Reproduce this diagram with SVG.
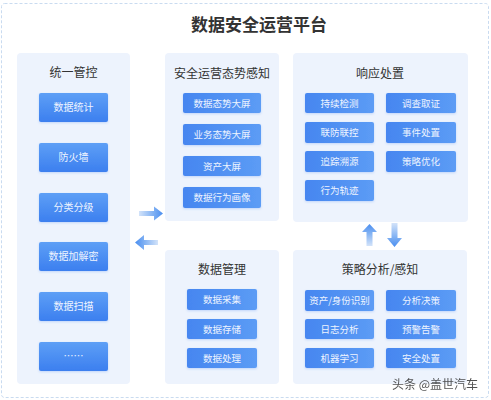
<svg xmlns="http://www.w3.org/2000/svg" width="491" height="400" viewBox="0 0 491 400">
<defs>
<linearGradient id="btn" x1="0" y1="0" x2="0" y2="1">
<stop offset="0" stop-color="#5d9ff6"/>
<stop offset="1" stop-color="#3c7fef"/>
</linearGradient>
<linearGradient id="btn2" x1="0" y1="0" x2="1" y2="0">
<stop offset="0" stop-color="#4686f0"/>
<stop offset="1" stop-color="#5c9cf5"/>
</linearGradient>
<linearGradient id="arR" x1="0" y1="0" x2="1" y2="0">
<stop offset="0" stop-color="#d3e3f9"/>
<stop offset="0.6" stop-color="#7fb0f3"/>
<stop offset="1" stop-color="#4a8ef0"/>
</linearGradient>
<linearGradient id="arL" x1="1" y1="0" x2="0" y2="0">
<stop offset="0" stop-color="#d3e3f9"/>
<stop offset="0.6" stop-color="#7fb0f3"/>
<stop offset="1" stop-color="#4a8ef0"/>
</linearGradient>
<linearGradient id="arU" x1="0" y1="1" x2="0" y2="0">
<stop offset="0" stop-color="#d3e3f9"/>
<stop offset="0.6" stop-color="#7fb0f3"/>
<stop offset="1" stop-color="#4a8ef0"/>
</linearGradient>
<linearGradient id="arD" x1="0" y1="0" x2="0" y2="1">
<stop offset="0" stop-color="#d3e3f9"/>
<stop offset="0.6" stop-color="#7fb0f3"/>
<stop offset="1" stop-color="#4a8ef0"/>
</linearGradient>
<filter id="sh" x="-10%" y="-10%" width="120%" height="140%">
<feDropShadow dx="0" dy="1" stdDeviation="1" flood-color="#3c7fef" flood-opacity="0.25"/>
</filter>
</defs>
<style>
.panel{fill:#edf3fd;}
.ptitle{font-family:"Noto Sans CJK SC","Noto Sans",sans-serif;font-size:12px;fill:#333;text-anchor:middle;}
.b{fill:url(#btn);filter:url(#sh);}
.b2{fill:url(#btn2);filter:url(#sh);}
.bt{font-family:"Noto Sans CJK SC","Noto Sans",sans-serif;font-size:10px;fill:#eef4ff;text-anchor:middle;}
.bs{font-family:"Noto Sans CJK SC","Noto Sans",sans-serif;font-size:9.5px;fill:#eef4ff;text-anchor:middle;}
</style>
<rect x="0" y="0" width="491" height="400" fill="#ffffff"/>
<rect x="1.5" y="3.5" width="487" height="394" rx="3" fill="#ffffff" stroke="#c9dbf0" stroke-width="1" stroke-dasharray="3,2"/>
<text x="259" y="31" font-family="Noto Sans CJK SC, Noto Sans, sans-serif" font-size="17" font-weight="bold" fill="#333" text-anchor="middle">数据安全运营平台</text>

<g id="unified-control">
<rect class="panel" x="17" y="53" width="113" height="331" rx="4"/>
<text class="ptitle" x="73.5" y="77">统一管控</text>
<rect class="b" x="39" y="93" width="69" height="29" rx="2"/><text class="bt" x="73.5" y="111">数据统计</text>
<rect class="b" x="39" y="143" width="69" height="29" rx="2"/><text class="bt" x="73.5" y="161">防火墙</text>
<rect class="b" x="39" y="193" width="69" height="29" rx="2"/><text class="bt" x="73.5" y="211">分类分级</text>
<rect class="b" x="39" y="242" width="69" height="29" rx="2"/><text class="bt" x="73.5" y="260">数据加解密</text>
<rect class="b" x="39" y="292" width="69" height="29" rx="2"/><text class="bt" x="73.5" y="310">数据扫描</text>
<rect class="b" x="39" y="342" width="69" height="29" rx="2"/><text class="bt" x="73.5" y="360">……</text>
</g>

<g id="situation-awareness">
<rect class="panel" x="165" y="53" width="114" height="168" rx="4"/>
<text class="ptitle" x="222" y="78">安全运营态势感知</text>
<rect class="b2" x="183" y="93" width="78" height="20" rx="2"/><text class="bs" x="222" y="106.5">数据态势大屏</text>
<rect class="b2" x="183" y="124" width="78" height="21" rx="2"/><text class="bs" x="222" y="138">业务态势大屏</text>
<rect class="b2" x="183" y="156" width="78" height="20" rx="2"/><text class="bs" x="222" y="169.5">资产大屏</text>
<rect class="b2" x="183" y="187" width="78" height="21" rx="2"/><text class="bs" x="222" y="201">数据行为画像</text>
</g>

<g id="response">
<rect class="panel" x="293" y="53" width="175" height="169" rx="4"/>
<text class="ptitle" x="380" y="78">响应处置</text>
<rect class="b2" x="305" y="93" width="69" height="20" rx="2"/><text class="bs" x="339.5" y="106.5">持续检测</text>
<rect class="b2" x="386" y="93" width="70" height="20" rx="2"/><text class="bs" x="421" y="106.5">调查取证</text>
<rect class="b2" x="305" y="122" width="69" height="21" rx="2"/><text class="bs" x="339.5" y="136">联防联控</text>
<rect class="b2" x="386" y="122" width="70" height="21" rx="2"/><text class="bs" x="421" y="136">事件处置</text>
<rect class="b2" x="305" y="151" width="69" height="21" rx="2"/><text class="bs" x="339.5" y="165">追踪溯源</text>
<rect class="b2" x="386" y="151" width="70" height="21" rx="2"/><text class="bs" x="421" y="165">策略优化</text>
<rect class="b2" x="305" y="180" width="69" height="21" rx="2"/><text class="bs" x="339.5" y="194">行为轨迹</text>
</g>

<g id="data-management">
<rect class="panel" x="165" y="250" width="114" height="134" rx="4"/>
<text class="ptitle" x="222" y="274">数据管理</text>
<rect class="b2" x="187" y="289" width="70" height="21" rx="2"/><text class="bs" x="222" y="303">数据采集</text>
<rect class="b2" x="187" y="319" width="70" height="20" rx="2"/><text class="bs" x="222" y="332.5">数据存储</text>
<rect class="b2" x="187" y="348" width="70" height="20" rx="2"/><text class="bs" x="222" y="361.5">数据处理</text>
</g>

<g id="strategy-analysis">
<rect class="panel" x="293" y="250" width="174" height="134" rx="4"/>
<text class="ptitle" x="380" y="274">策略分析/感知</text>
<rect class="b2" x="305" y="290" width="69" height="21" rx="2"/><text class="bs" x="339.5" y="304">资产/身份识别</text>
<rect class="b2" x="386" y="290" width="70" height="21" rx="2"/><text class="bs" x="421" y="304">分析决策</text>
<rect class="b2" x="305" y="319" width="69" height="20" rx="2"/><text class="bs" x="339.5" y="332.5">日志分析</text>
<rect class="b2" x="386" y="319" width="70" height="20" rx="2"/><text class="bs" x="421" y="332.5">预警告警</text>
<rect class="b2" x="305" y="348" width="69" height="20" rx="2"/><text class="bs" x="339.5" y="361.5">机器学习</text>
<rect class="b2" x="386" y="348" width="70" height="20" rx="2"/><text class="bs" x="421" y="361.5">安全处置</text>
</g>

<g id="connectors">
<polygon points="139,211 154,211 154,206.5 163,213.5 154,220.5 154,216 139,216" fill="url(#arR)"/>
<polygon points="158,240 144,240 144,235 135,242.5 144,250 144,245 158,245" fill="url(#arL)"/>
<polygon points="366.5,246 366.5,232 362,232 369.5,224 377,232 372.5,232 372.5,246" fill="url(#arU)"/>
<polygon points="391.5,223 391.5,238 387,238 394.5,247 402,238 397.5,238 397.5,223" fill="url(#arD)"/>
</g>

<text x="435" y="389" font-family="Noto Sans CJK SC, Noto Sans, sans-serif" font-size="12" fill="#333" text-anchor="middle" opacity="0.85">头条 @盖世汽车</text>
</svg>
